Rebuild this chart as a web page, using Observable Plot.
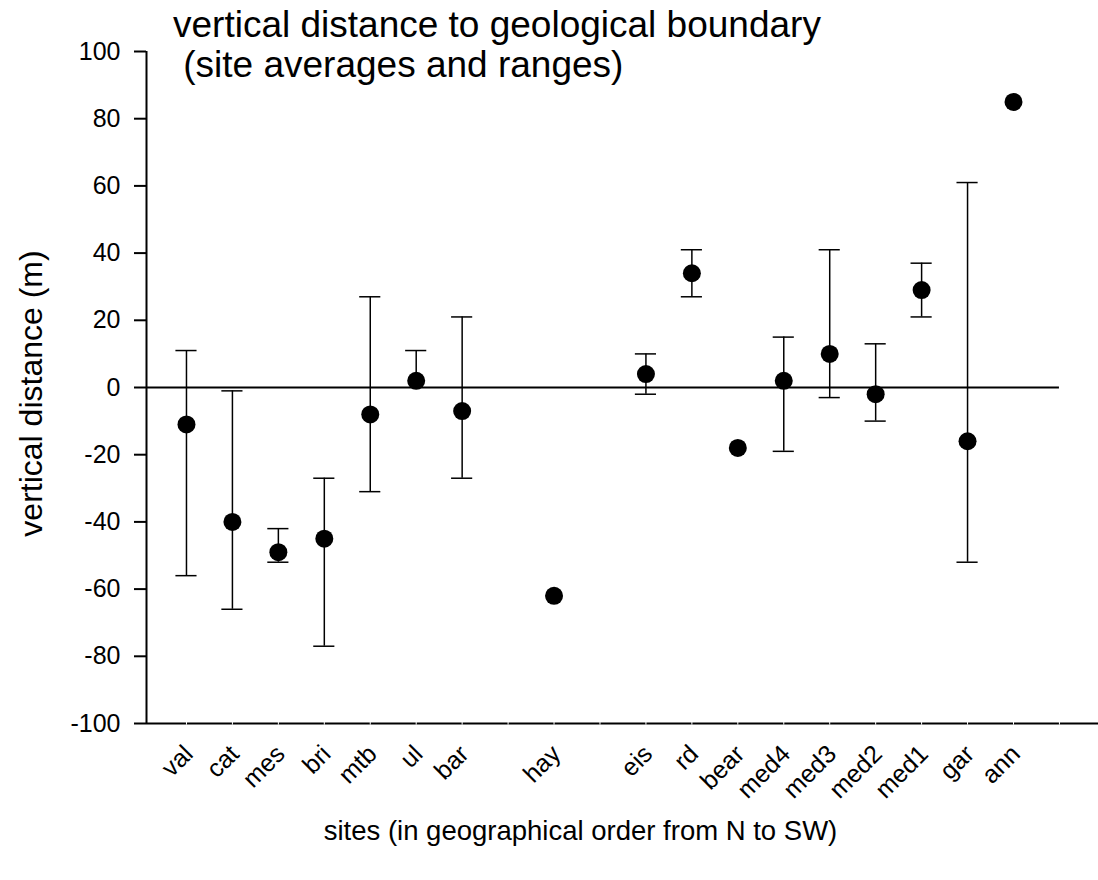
<!DOCTYPE html>
<html>
<head>
<meta charset="utf-8">
<script src="https://cdn.jsdelivr.net/npm/d3@7"></script>
<script src="https://cdn.jsdelivr.net/npm/@observablehq/plot@0.6"></script>
<style>
  html, body { margin: 0; padding: 0; background: #fff; }
  #wrap { position: relative; width: 1098px; height: 880px; font-family: Arial, "Liberation Sans", sans-serif; }
  #title { position: absolute; left: 173px; top: 5px; font-size: 37px; line-height: 40px; color: #000; white-space: pre; }
</style>
</head>
<body>
<div id="wrap">
  <div id="chart"></div>
  <div id="title">vertical distance to geological boundary
 (site averages and ranges)</div>
</div>
<script>
// Sites in geographical order (N to SW) and their slot along the axis
const sites = ["val","cat","mes","bri","mtb","ul","bar","hay","eis","rd","bear","med4","med3","med2","med1","gar","ann"];
const slot  = [0, 1, 2, 3, 4, 5, 6, 8, 10, 11, 12, 13, 14, 15, 16, 17, 18];
// site averages (m)
const avg   = [-11, -40, -49, -45, -8, 2, -7, -62, 4, 34, -18, 2, 10, -2, 29, -16, 85];
// range minimum / maximum (m); null = no range shown
const low   = [-56, -66, -52, -77, -31, null, -27, null, -2, 27, null, -19, -3, -10, 21, -52, null];
const high  = [11, -1, -42, -27, 27, 11, 21, null, 10, 41, null, 15, 41, 13, 37, 61, null];
// axis ticks
const yTicks = [-100, -80, -60, -40, -20, 0, 20, 40, 60, 80, 100];
const slotTicks = d3.range(0, 20);

const data = sites.map((s, i) => ({site: s, slot: slot[i], avg: avg[i], low: low[i], high: high[i]}));
const ranged = data.filter(d => d.high != null);
const lowCaps = data.filter(d => d.low != null);

const capHalf = 0.23;

const chart = Plot.plot({
  width: 1098,
  height: 880,
  marginLeft: 146,
  marginRight: 0,
  marginTop: 51,
  marginBottom: 157,
  style: {fontFamily: "Arial, 'Liberation Sans', sans-serif", fontSize: "25px", color: "#000", background: "#fff", overflow: "visible"},
  x: {domain: [-0.87, 19.85], axis: null},
  y: {domain: [-100, 100], axis: null},
  marks: [
    // y axis with ticks
    Plot.axisY(yTicks, {tickSize: 12, tickPadding: 14, fontSize: 25, tickFormat: d => String(d), strokeWidth: 2, label: null}),
    Plot.ruleX([-0.87], {y1: -100, y2: 100, strokeWidth: 2}),
    // bottom line with small gaps at each slot
    Plot.ruleY([-100], {x1: -0.87, x2: 19.85, strokeWidth: 2}),
    Plot.ruleX(slotTicks, {x: d => d, y1: -100.5, y2: -99.5, stroke: "#fff", strokeWidth: 1}),
    // zero line
    Plot.ruleY([0], {x1: -0.87, x2: 19, strokeWidth: 2}),
    // ranges
    Plot.ruleX(ranged, {x: "slot", y1: d => d.low ?? d.avg, y2: "high", strokeWidth: 1.5}),
    Plot.ruleY(ranged, {y: "high", x1: d => d.slot - capHalf, x2: d => d.slot + capHalf, strokeWidth: 1.5}),
    Plot.ruleY(lowCaps, {y: "low", x1: d => d.slot - capHalf, x2: d => d.slot + capHalf, strokeWidth: 1.5}),
    // averages
    Plot.dot(data, {x: "slot", y: "avg", r: 9, fill: "#000", stroke: null}),
    // site labels
    Plot.text(data, {x: "slot", y: -100, text: "site", rotate: -45, textAnchor: "end", lineAnchor: "bottom", dx: 8, dy: 32, fontSize: 25}),
    // axis titles
    Plot.text(["vertical distance (m)"], {frameAnchor: "left", rotate: -90, textAnchor: "middle", dx: -115, dy: 6, fontSize: 32, lineAnchor: "middle"}),
    Plot.text(["sites (in geographical order from N to SW)"], {frameAnchor: "bottom", textAnchor: "middle", dx: -42, dy: 108, fontSize: 27.5, lineAnchor: "middle"})
  ]
});
document.getElementById("chart").appendChild(chart);
</script>
</body>
</html>
